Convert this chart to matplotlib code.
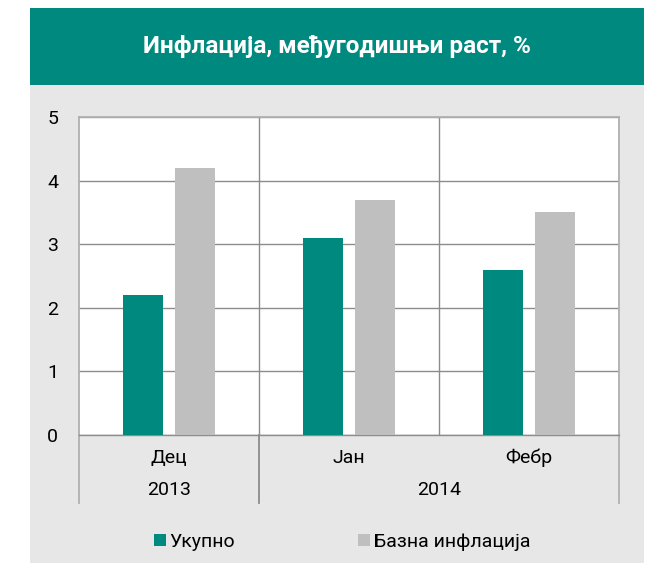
import numpy as np
import matplotlib.pyplot as plt
from matplotlib.patches import Rectangle

plt.rcParams['font.family'] = ['Roboto', 'DejaVu Sans']

# podaci
meseci = ['Дец', 'Јан', 'Фебр']
godine = ['2013', '2014']
ukupno = [2.2, 3.1, 2.6]
bazna = [4.2, 3.7, 3.5]
serije = ['Укупно', 'Базна инфлација']

teal = '#00897E'
siva = '#BFBFBF'
pozadina = '#E7E7E7'

W, H = 659, 564
fig = plt.figure(figsize=(W / 100, H / 100), dpi=100)

def px(x0, y0, x1, y1):
    # pikseli (od gornjeg levog ugla) -> koordinate figure
    return (x0 / W, 1 - y1 / H, (x1 - x0) / W, (y1 - y0) / H)

# pozadina i traka sa naslovom
l, b, w, h = px(30, 85, 644, 563)
fig.patches.append(Rectangle((l, b), w, h, transform=fig.transFigure,
                             facecolor=pozadina, edgecolor='none', zorder=-10))
l, b, w, h = px(30, 8, 644, 85)
fig.patches.append(Rectangle((l, b), w, h, transform=fig.transFigure,
                             facecolor=teal, edgecolor='none', zorder=-10))
fig.text(337 / W, 1 - 47 / H, 'Инфлација, међугодишњи раст, %', color='white',
         fontsize=17.5, fontweight='bold', ha='center', va='center')

ax = fig.add_axes(px(79, 117, 619, 435))
ax.set_facecolor('white')

x = np.arange(len(meseci))
sirina = 0.222
b1 = ax.bar(x + 0.356, ukupno, sirina, color=teal, label=serije[0], zorder=3)
b2 = ax.bar(x + 0.644, bazna, sirina, color=siva, label=serije[1], zorder=3)

ax.set_xlim(0, len(meseci))
ax.set_ylim(0, 5)
ax.set_yticks(range(6))
ax.tick_params(axis='y', length=0, pad=15, labelsize=14)
ax.set_xticks([])
ax.grid(axis='y', color='#8C8C8C', linewidth=1, zorder=1)
for xv in range(1, len(meseci)):
    ax.axvline(xv, color='#8C8C8C', linewidth=1, zorder=1)
for s in ax.spines.values():
    s.set_color('#B0B0B0')
    s.set_linewidth(1.3)
ax.spines['bottom'].set_color('#8C8C8C')
ax.spines['bottom'].set_linewidth(1)

# kategorijska osa ispod grafika
tr = ax.get_xaxis_transform()
dno = -(503 - 435) / 318
for xv, boja in [(0, '#B0B0B0'), (1, '#8C8C8C'), (3, '#B0B0B0')]:
    ax.plot([xv, xv], [0, dno], transform=tr, color=boja, linewidth=1.3,
            clip_on=False, zorder=2)
for i, m in enumerate(meseci):
    ax.text(i + 0.5, -(458 - 435) / 318, m, transform=tr, ha='center',
            va='center', fontsize=14)
ax.text(0.5, -(490 - 435) / 318, godine[0], transform=tr, ha='center',
        va='center', fontsize=14)
ax.text(2.0, -(490 - 435) / 318, godine[1], transform=tr, ha='center',
        va='center', fontsize=14)

fig.legend(handles=[b1, b2], loc='center', bbox_to_anchor=(342 / W, 1 - 542 / H),
           ncol=2, frameon=False, fontsize=14, handlelength=0.62,
           handleheight=0.62, handletextpad=0.2, columnspacing=6.3,
           borderpad=0)

fig.savefig('out.png', dpi=100)
